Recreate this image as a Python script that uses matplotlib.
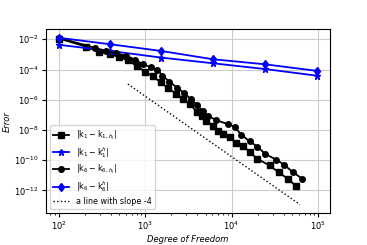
import numpy as np
import matplotlib
matplotlib.use('Agg')
import matplotlib.pyplot as plt
from matplotlib.ticker import NullFormatter

# blue: error vs. exact eigenvalue (uniform refinement)
dof_h = [100, 390, 1510, 6030, 24500, 97700]
err_k1_h = [4.3e-3, 1.7e-3, 6.2e-4, 2.6e-4, 1.07e-4, 3.9e-5]
err_k6_h = [1.26e-2, 4.7e-3, 1.7e-3, 4.8e-4, 2.2e-4, 8.1e-5]

# black: adaptive refinement
dof_k1 = [100, 209, 295, 389, 501, 631, 794, 1000, 1230, 1514, 1862, 2291, 2754,
          3311, 3981, 4571, 5129, 6026, 6918, 7943, 9550, 11220, 13490, 16220,
          19950, 27540, 35080, 44670, 56230]
err_k1 = [1.12e-2, 3.2e-3, 1.38e-3, 1.07e-3, 7.1e-4, 4.0e-4, 1.78e-4, 7.1e-5, 3.5e-5,
          1.41e-5, 5.6e-6, 2.5e-6, 1.12e-6, 5.0e-7, 1.58e-7, 7.9e-8, 4.1e-8, 1.9e-8,
          8.9e-9, 5.5e-9, 3.2e-9, 1.41e-9, 8.9e-10, 3.5e-10, 1.23e-10, 4.5e-11,
          1.62e-11, 6.0e-12, 1.86e-12]
dof_k6 = [100, 263, 355, 457, 603, 759, 933, 1175, 1380, 1585, 1905, 2344, 2818,
          3388, 3981, 4677, 5370, 6607, 9057, 10840, 12940, 16220, 19950, 24550,
          33110, 40740, 51290, 66070]
err_k6 = [1.26e-2, 2.7e-3, 1.58e-3, 1.2e-3, 7.9e-4, 4.5e-4, 2.3e-4, 1.38e-4, 9.8e-5,
          4.0e-5, 1.58e-5, 6.3e-6, 2.8e-6, 1.12e-6, 4.5e-7, 1.78e-7, 8.7e-8, 4.5e-8,
          2.45e-8, 1.66e-8, 4.9e-9, 1.78e-9, 7.9e-10, 2.6e-10, 1.07e-10, 5.0e-11,
          1.62e-11, 6.0e-12]

# reference slope line
dof_ref = np.array([630, 62000])
y_ref0 = 1.1e-5
slope = -4

fig = plt.figure(figsize=(3.67, 2.45), dpi=100)
ax = fig.add_axes([0.125, 0.131, 0.774, 0.749])

ax.loglog(dof_k1, err_k1, 'k-s', lw=1.3, ms=4, label=r'$|\mathrm{k}_1-\mathrm{k}_{1,h_l}|$')
ax.loglog(dof_h, err_k1_h, 'b-*', lw=1.3, ms=5, label=r'$|\mathrm{k}_1-\mathrm{k}_1^h|$')
ax.loglog(dof_k6, err_k6, 'k-o', lw=1.3, ms=4, label=r'$|\mathrm{k}_6-\mathrm{k}_{6,h_l}|$')
ax.loglog(dof_h, err_k6_h, 'b-d', lw=1.3, ms=4.5, label=r'$|\mathrm{k}_6-\mathrm{k}_6^h|$')
ax.loglog(dof_ref, y_ref0 * (dof_ref / dof_ref[0]) ** slope, 'k:', lw=1,
          label='a line with slope -4')

ax.grid(True, which='major', color='#cccccc', lw=0.8)
ax.xaxis.set_minor_formatter(NullFormatter())
ax.yaxis.set_minor_formatter(NullFormatter())
ax.set_xlabel('Degree of Freedom', fontsize=6, style='italic', labelpad=2)
ax.set_ylabel('Error', fontsize=6, style='italic', labelpad=2)
ax.tick_params(labelsize=6, pad=2)
ax.tick_params(which='major', length=3)
ax.tick_params(which='minor', length=1.5)
ax.legend(loc='lower left', fontsize=5.8, handlelength=2, borderpad=0.4,
          labelspacing=0.35)

fig.savefig('out.png', dpi=100)
